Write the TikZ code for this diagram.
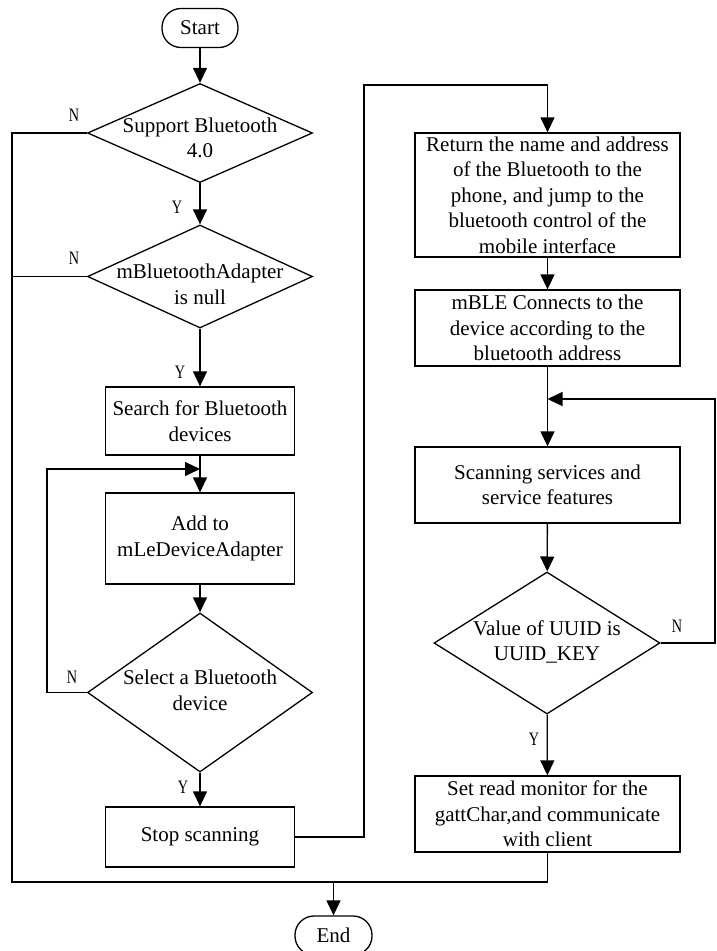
\documentclass[tikz,border=0pt]{standalone}
\usepackage{fontspec}
\setmainfont{Liberation Serif}
\newfontfamily\ynfont[FakeStretch=0.75]{Liberation Serif}
\usetikzlibrary{arrows.meta, shapes.geometric}
\newcommand{\mainfs}{\fontsize{21}{25.5}\selectfont}
\newcommand{\dtext}[2][-5pt]{\makebox[0pt]{\raisebox{#1}[0pt][0pt]{\begin{tabular}{@{}c@{}}#2\end{tabular}}}}

\begin{document}
\begin{tikzpicture}[
  x=1pt, y=-1pt, line width=1.3pt,
  box/.style={draw, inner sep=1pt, align=center, font=\mainfs},
  lbox/.style={box, minimum width=189pt},
  rbox/.style={box, minimum width=265pt},
  decision/.style={draw, diamond, inner sep=0pt, font=\mainfs},
  terminal/.style={draw, rounded corners=19pt, minimum width=76pt,
    minimum height=39pt, inner sep=0pt, font=\mainfs},
  arrow/.style={-{Triangle[length=15pt, width=14pt]}},
  yn/.style={font=\ynfont\fontsize{19}{19}\selectfont, inner sep=0pt}
]
\useasboundingbox (0,0) rectangle (716,951);

% left column: finding a device
\node[terminal] (start) at (200,28) {Start};
\node[decision, minimum width=225pt, minimum height=99pt] (support) at (200,133)
  {\dtext[-12pt]{Support Bluetooth\\4.0}};
\node[decision, minimum width=225pt, minimum height=103pt] (adapter) at (200,276.5)
  {\dtext[-15pt]{mBluetoothAdapter\\is null}};
\node[lbox, minimum height=68pt] (search) at (200,421)
  {Search for Bluetooth\\devices};
\node[lbox, minimum height=91pt] (add) at (200,538.5)
  {Add to\\mLeDeviceAdapter};
\node[decision, minimum width=225pt, minimum height=159pt] (select) at (200,692.5)
  {\dtext{Select a Bluetooth\\device}};
\node[lbox, minimum height=60pt] (stop) at (200,837) {Stop scanning};

% right column: connecting and reading
\node[rbox, minimum height=124pt] (return) at (547.5,195)
  {Return the name and address\\of the Bluetooth to the\\phone, and jump to the\\bluetooth control of the\\mobile interface};
\node[rbox, minimum height=76pt] (connect) at (547.5,328)
  {mBLE Connects to the\\device according to the\\bluetooth address};
\node[rbox, minimum height=76pt] (scan) at (547.5,485)
  {Scanning services and\\service features};
\node[decision, minimum width=226pt, minimum height=142pt] (uuid) at (547,643)
  {\dtext{Value of UUID is\\UUID\_KEY}};
\node[rbox, minimum height=76pt] (setread) at (547.5,814)
  {Set read monitor for the\\gattChar,and communicate\\with client};
\node[terminal, minimum width=77pt] (end) at (333.5,935.5) {End};

\coordinate (loopin) at (200,469);
\coordinate (rescan) at (547.5,399);
\coordinate (finish) at (333.5,882);

\draw[arrow] (start) -- (support);
\draw[arrow] (support) -- (adapter);
\draw[arrow] (adapter) -- (search);
\draw[arrow] (search) -- (add);
\draw[arrow] (add) -- (select);
\draw[arrow] (select) -- (stop);
\draw[arrow] (select.west) -- (47,692.5) |- (loopin);
\draw[arrow] (stop.east) -| (364,85) -| (return.north);
\draw[arrow] (return) -- (connect);
\draw[arrow] (connect) -- (scan);
\draw[arrow] (scan) -- (uuid);
\draw[arrow] (uuid) -- (setread);
\draw[arrow] (uuid.east) -- (715,643) |- (rescan);
\draw (support.west) -- (12,133) -- (12,882) -| (setread.south);
\draw (adapter.west) -- (12,276.5);
\draw[arrow] (finish) -- (end);

\node[yn] (n1) at (74,115) {N};
\node[yn] (y1) at (177,207) {Y};
\node[yn] (n2) at (74,258) {N};
\node[yn] (y2) at (180,372) {Y};
\node[yn] (n3) at (72,677) {N};
\node[yn] (y3) at (183,787) {Y};
\node[yn] (n4) at (677,626) {N};
\node[yn] (y4) at (534,739) {Y};
\end{tikzpicture}
\end{document}
